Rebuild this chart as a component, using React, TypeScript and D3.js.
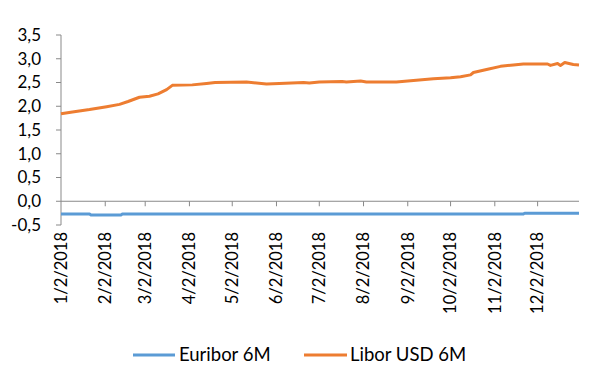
import React from 'react';
import * as d3 from 'd3';

// Libor USD 6M
const liborDates = [
  '2018-01-02', '2018-01-10', '2018-01-22', '2018-02-03', '2018-02-12', '2018-02-18',
  '2018-02-26', '2018-03-05', '2018-03-11', '2018-03-17', '2018-03-21', '2018-04-04',
  '2018-04-14', '2018-04-20', '2018-05-12', '2018-05-26', '2018-06-04', '2018-06-21',
  '2018-06-25', '2018-07-02', '2018-07-18', '2018-07-21', '2018-07-31', '2018-08-04',
  '2018-08-25', '2018-09-06', '2018-09-20', '2018-10-02', '2018-10-09', '2018-10-16',
  '2018-10-18', '2018-10-28', '2018-11-06', '2018-11-15', '2018-11-22', '2018-12-09',
  '2018-12-11', '2018-12-16', '2018-12-18', '2018-12-21', '2018-12-27', '2018-12-31'
];
const liborValues = [
  1.84, 1.88, 1.93, 1.99, 2.04, 2.10,
  2.19, 2.21, 2.26, 2.35, 2.44, 2.45,
  2.48, 2.50, 2.51, 2.47, 2.48, 2.50,
  2.49, 2.51, 2.52, 2.51, 2.53, 2.51,
  2.51, 2.54, 2.58, 2.60, 2.62, 2.66,
  2.71, 2.78, 2.84, 2.87, 2.89, 2.89,
  2.86, 2.90, 2.86, 2.92, 2.88, 2.87
];

// Euribor 6M
const euriborDates = [
  '2018-01-02', '2018-01-22', '2018-01-23', '2018-02-13', '2018-02-14',
  '2018-05-01', '2018-08-01', '2018-11-22', '2018-11-23', '2018-12-31'
];
const euriborValues = [
  -0.27, -0.27, -0.29, -0.29, -0.27,
  -0.27, -0.27, -0.27, -0.25, -0.25
];

const xTickDates = [
  '2018-01-02', '2018-02-02', '2018-03-02', '2018-04-02', '2018-05-02', '2018-06-02',
  '2018-07-02', '2018-08-02', '2018-09-02', '2018-10-02', '2018-11-02', '2018-12-02'
];
const xTickLabels = [
  '1/2/2018', '2/2/2018', '3/2/2018', '4/2/2018', '5/2/2018', '6/2/2018',
  '7/2/2018', '8/2/2018', '9/2/2018', '10/2/2018', '11/2/2018', '12/2/2018'
];
const yTicks = [-0.5, 0, 0.5, 1, 1.5, 2, 2.5, 3, 3.5];

const EURIBOR_COLOR = '#5b9bd5';
const LIBOR_COLOR = '#ed7d31';
const AXIS_COLOR = '#898989';
const FONT = 'Lato, "Noto Sans", sans-serif';

const parse = d3.timeParse('%Y-%m-%d');

const App: React.FC = () => {
  const width = 597;
  const height = 391;

  const x = d3.scaleTime()
    .domain([parse('2018-01-02') as Date, parse('2018-12-31') as Date])
    .range([61, 579]);
  const y = d3.scaleLinear().domain([-0.5, 3.5]).range([225, 35]);

  const line = d3.line<[Date, number]>()
    .x(d => x(d[0]))
    .y(d => y(d[1]));

  const libor = liborDates.map((d, i) => [parse(d) as Date, liborValues[i]] as [Date, number]);
  const euribor = euriborDates.map((d, i) => [parse(d) as Date, euriborValues[i]] as [Date, number]);

  const fmt = (v: number) => d3.format('.1f')(v).replace('.', ',').replace('−', '-');

  return (
    <div>
      <style>{`body{margin:0}`}</style>
      <svg width={width} height={height} style={{ display: 'block', background: '#fff' }}>
        {/* y axis */}
        <line x1={61} x2={61} y1={y(3.5)} y2={y(-0.5)} stroke={AXIS_COLOR} strokeWidth={1} />
        {yTicks.map(t => (
          <g key={t}>
            <line x1={56} x2={61} y1={y(t)} y2={y(t)} stroke={AXIS_COLOR} />
            <text x={41} y={y(t)} dy="0.35em" textAnchor="end" fontFamily={FONT} fontSize={17} fill="#000">
              {fmt(t)}
            </text>
          </g>
        ))}

        {/* x axis at zero */}
        <line x1={61} x2={579} y1={y(0)} y2={y(0)} stroke={AXIS_COLOR} />
        {xTickDates.map((d, i) => {
          const px = x(parse(d) as Date);
          return (
            <g key={d}>
              {i > 0 && <line x1={px} x2={px} y1={y(0)} y2={y(0) + 5} stroke={AXIS_COLOR} />}
              <text
                transform={`translate(${px},232) rotate(-90)`}
                dy="0.35em"
                textAnchor="end"
                fontFamily={FONT}
                fontSize={16.5}
                fill="#000"
              >
                {xTickLabels[i]}
              </text>
            </g>
          );
        })}

        {/* series */}
        <path d={line(euribor) || ''} fill="none" stroke={EURIBOR_COLOR} strokeWidth={3} strokeLinejoin="round" />
        <path d={line(libor) || ''} fill="none" stroke={LIBOR_COLOR} strokeWidth={3} strokeLinejoin="round" />

        {/* legend */}
        <line x1={133} x2={175} y1={355} y2={355} stroke={EURIBOR_COLOR} strokeWidth={3} />
        <text x={179} y={355} dy="0.35em" fontFamily={FONT} fontSize={18.5} fill="#000">Euribor 6M</text>
        <line x1={304} x2={347} y1={355} y2={355} stroke={LIBOR_COLOR} strokeWidth={3} />
        <text x={350} y={355} dy="0.35em" fontFamily={FONT} fontSize={18.5} fill="#000">Libor USD 6M</text>
      </svg>
    </div>
  );
};

export default App;
